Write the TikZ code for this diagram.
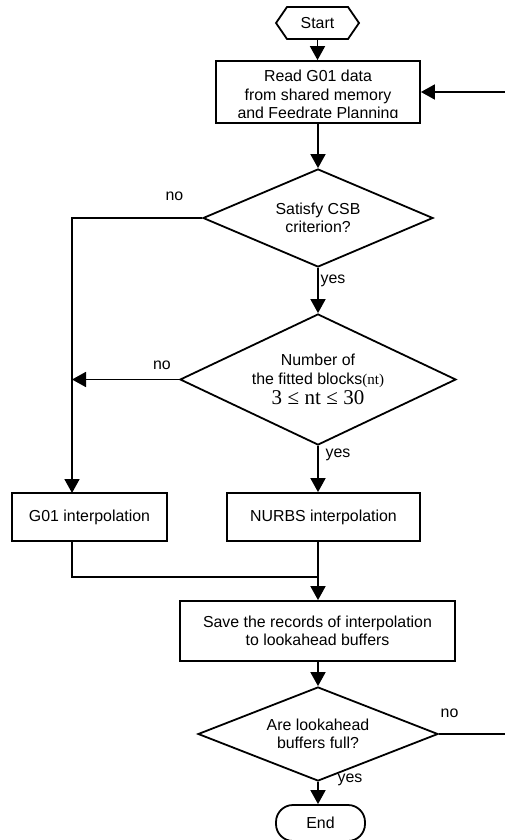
\documentclass[tikz,border=0pt]{standalone}
\usepackage{fontspec}
\setmainfont{Liberation Sans}
\newfontfamily\serifnt{Liberation Serif}
\usetikzlibrary{shapes.geometric,arrows.meta,calc}
\begin{document}
\begin{tikzpicture}[x=1pt,y=-1pt, line width=1.8pt,
  every node/.style={font=\fontsize{15.9}{18.3}\selectfont},
  box/.style={draw, rectangle, inner sep=0pt},
  dec/.style={draw, diamond, inner sep=0pt, align=center},
  arr/.style={-{Triangle[width=15pt,length=14pt]}},
  lbl/.style={inner sep=0pt, anchor=center}]
\useasboundingbox (0,0) rectangle (505,840);

% nodes
\node[inner sep=0pt, outer sep=0pt, minimum width=83, minimum height=32] (start) at (317.5,23) {Start};
\draw (start.west) -- ([xshift=11pt]start.north west) -- ([xshift=-11pt]start.north east)
  -- (start.east) -- ([xshift=-11pt]start.south east) -- ([xshift=11pt]start.south west) -- cycle;

\node[box, minimum width=204, minimum height=62] (read) at (318,92) {};
\begin{scope}
  \clip (216,61) rectangle (420,117.5);
  \node[align=center, inner sep=0pt] (readtxt) at (318,96) {Read G01 data\\from shared memory\\and Feedrate Planning};
\end{scope}

\node[dec, minimum width=230, minimum height=98, aspect=2.35] (d1) at (318,218) {Satisfy CSB\\criterion?};
\node[dec, minimum width=276, minimum height=131, aspect=2.1] (d2) at (318,379.5)
  {Number of\\the fitted blocks{\serifnt\fontsize{15}{18}\selectfont(nt)}\\[2pt]{\serifnt\fontsize{21}{24}\selectfont 3\hspace{5.5pt}≤\hspace{5.5pt}nt\hspace{5.5pt}≤\hspace{5.5pt}30}};
\node[box, minimum width=155, minimum height=48] (g01) at (89.5,517) {G01 interpolation};
\node[box, minimum width=193, minimum height=48] (nurbs) at (323.5,517) {NURBS interpolation};
\node[box, minimum width=275, minimum height=60, align=center] (save) at (317.5,631) {Save the records of interpolation\\to lookahead buffers};
\node[dec, minimum width=240, minimum height=94, aspect=2.55] (d3) at (318,734) {Are lookahead\\buffers full?};
\node[draw, rounded corners=17pt, minimum width=89, minimum height=36, inner sep=0pt] (end) at (320.5,823) {End};

% labels
\node[lbl] (no1) at (174.5,196) {no};
\node[lbl] (yes1) at (333,281) {yes};
\node[lbl] (no2) at (162,365) {no};
\node[lbl] (yes2) at (338,455) {yes};
\node[lbl] (no3) at (449.5,713) {no};
\node[lbl] (yes3) at (350,780) {yes};

% helper coordinates
\coordinate (fbin) at (505,92);
\coordinate (fbout) at (505,734);
\coordinate (lx) at (72,493);
\coordinate (mg) at (318,577);

% connectors
\draw[arr] (start.south) -- (start.south |- read.north);
\draw[arr] (fbin) -- (read.east);
\draw[arr] (read.south) -- (d1.north);
\draw[arr] (d1.west) -| (lx);
\draw[arr] (d1.south) -- (d2.north);
\draw[arr] (d2.west) -- (d2.west -| lx);
\draw[arr] (d2.south) -- (d2.south |- nurbs.north);
\draw (lx |- g01.south) |- (mg);
\draw[arr] (d2.south |- nurbs.south) -- (d2.south |- save.north);
\draw[arr] (d3.north |- save.south) -- (d3.north);
\draw (d3.east) -- (fbout);
\draw[arr] (d3.south) -- (d3.south |- end.north);
\end{tikzpicture}
\end{document}
